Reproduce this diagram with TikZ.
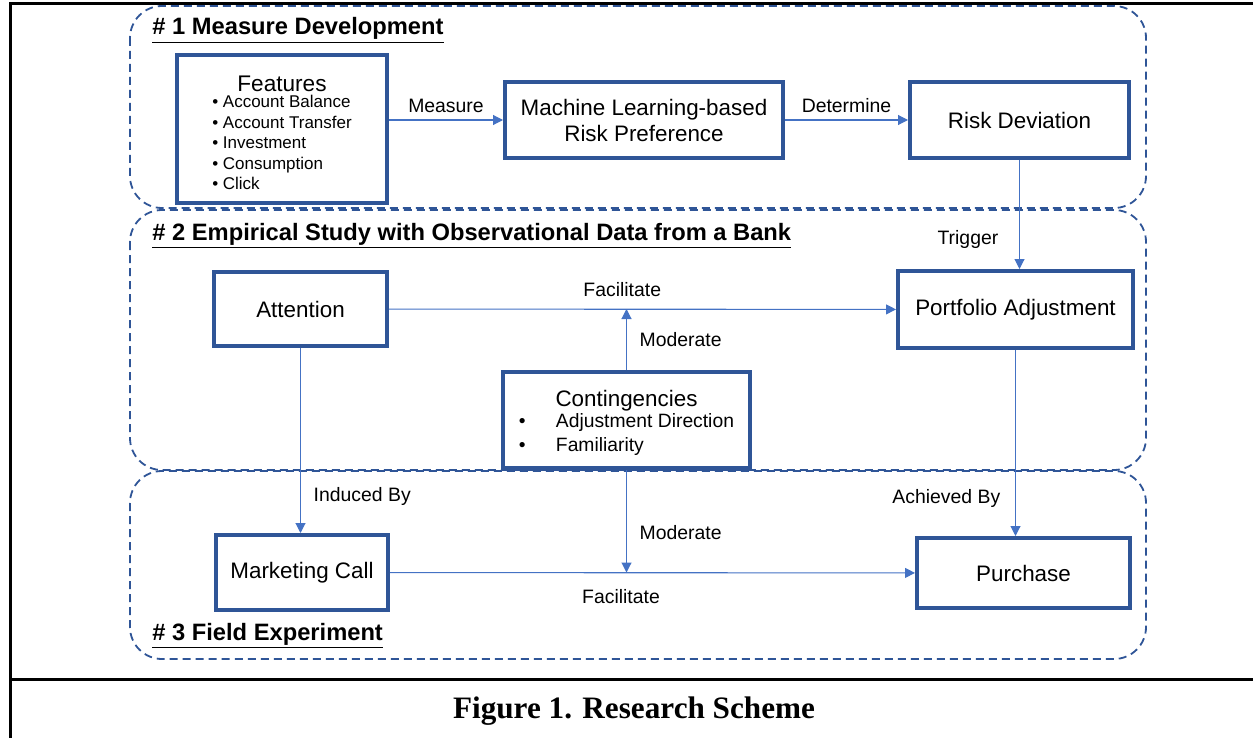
\documentclass[tikz,border=0pt]{standalone}
\usepackage{fontspec}
\setmainfont{Liberation Sans}
\newfontfamily\captionserif{Liberation Serif}
\usetikzlibrary{arrows.meta}
\definecolor{boxblue}{RGB}{47, 85, 151}
\definecolor{arrowblue}{RGB}{68, 114, 196}

\begin{document}
\begin{tikzpicture}[x=0.5pt, y=-0.5pt,
        blockbox/.style={rectangle, draw=boxblue, line width=2pt, fill=white, align=center,
                     inner sep=2pt, font=\fontsize{11.2}{13}\selectfont},
        zone/.style={draw=boxblue, line width=0.9pt, dash pattern=on 4pt off 2.5pt, rounded corners=16pt},
        flow/.style={-{Triangle[length=5pt, width=5pt]}, line width=0.55pt, arrowblue},
        lbl/.style={font=\fontsize{9.7}{11}\selectfont, text=black},
        zonetitle/.style={anchor=base west, inner sep=0pt, font=\fontsize{11.85}{14}\selectfont\bfseries}
    ]
        \useasboundingbox (0,0) rectangle (1253,738);

        % the three study zones
        \draw[zone] (130,6) rectangle (1146,208);
        \draw[zone] (130,210) rectangle (1146,470);
        \draw[zone] (130,471) rectangle (1146,659);

        % page frame and caption rule
        \draw[line width=1.5pt] (10,738) -- (10,4) -- (1253,4);
        \draw[line width=1.5pt] (10,679) -- (1253,679);

        \node[zonetitle] (t1) at (152,35)  {\underline{\# 1 Measure Development}};
        \node[zonetitle] (t2) at (152,240) {\underline{\# 2 Empirical Study with Observational Data from a Bank}};
        \node[zonetitle] (t3) at (152,640) {\underline{\# 3 Field Experiment}};

        \node[blockbox, minimum width=105pt, minimum height=74pt] (feat) at (282,129)
            {\rule{0pt}{15pt}{\fontsize{11.3}{12}\selectfont Features}\\[-5pt]
             {\fontsize{8.5}{10.25}\selectfont\begin{tabular}[t]{@{}l@{}}
                • Account Balance\\• Account Transfer\\• Investment\\• Consumption\\• Click
             \end{tabular}}};
        \node[blockbox, minimum width=139pt, minimum height=38pt] (ml) at (644,120)
            {Machine Learning-based\\Risk Preference};
        \node[blockbox, minimum width=109.5pt, minimum height=38pt] (dev) at (1019.5,120) {Risk Deviation};

        \node[blockbox, minimum width=86.5pt, minimum height=37pt] (attn) at (300.5,309) {Attention};
        \node[blockbox, minimum width=117.5pt, minimum height=38.5pt] (port) at (1015.5,309.5) {Portfolio Adjustment};
        \node[blockbox, minimum width=123.5pt, minimum height=48pt] (cont) at (626.5,420)
            {\rule{0pt}{13pt}Contingencies\\[-2.5pt]
             {\fontsize{9.65}{12}\selectfont\begin{tabular}[t]{@{}p{18.5pt}@{}l@{}}
                •& Adjustment Direction\\ •& Familiarity
             \end{tabular}}};

        \node[blockbox, minimum width=86pt, minimum height=37.5pt] (mkt) at (302,572.5) {Marketing Call};
        \node[blockbox, minimum width=106.5pt, minimum height=35pt] (purch) at (1023.5,573) {Purchase};

        \node[font=\captionserif\fontsize{15.6}{18}\selectfont\bfseries] (cap) at (634,711)
            {Figure 1. Research Scheme};

        % measure development chain
        \draw[flow] (feat.east |- ml.west) -- (ml.west) node[lbl, midway, above] {Measure};
        \draw[flow] (ml) -- (dev) node[lbl, midway, above] {Determine};
        \draw[flow] (dev.south) -- (dev.south |- port.north) node[lbl, pos=0.73, left=7pt] {Trigger};

        % empirical study and field experiment
        \draw[flow] (attn) -- (port) node[lbl, pos=0.46, above=2.5pt] {Facilitate};
        \draw[flow] (cont.north) -- (cont.north |- attn.east) node[lbl, midway, right=3pt] {Moderate};
        \draw[flow] (attn.south) -- (attn.south |- mkt.north) node[lbl, pos=0.8, right=3pt] {Induced By};
        \draw[flow] (cont.south) -- (cont.south |- mkt.east) node[lbl, pos=0.61, right=3pt] {Moderate};
        \draw[flow] (mkt) -- (purch) node[lbl, pos=0.44, below=5pt] {Facilitate};
        \draw[flow] (port.south) -- (port.south |- purch.north) node[lbl, pos=0.8, left=4pt] {Achieved By};
    \end{tikzpicture}
\end{document}
